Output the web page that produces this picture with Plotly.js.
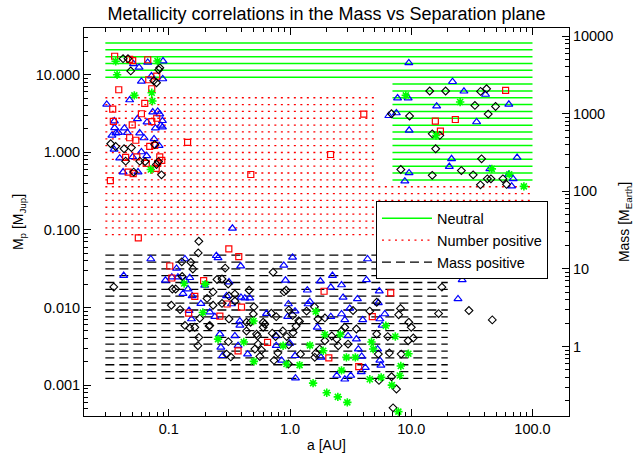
<!DOCTYPE html>
<html><head><meta charset="utf-8">
<script src="https://cdn.plot.ly/plotly-3.0.1.min.js"></script>
<style>html,body{margin:0;padding:0;background:#fff}#chart{width:634px;height:453px}</style>
</head><body><div id="chart"></div>
<script>
// ---- Horizontal correlation bands (mass levels in M_Jup, spans in AU) ----
var neutralLevelsFull = [25.7, 21.0, 17.1, 14.0, 11.4, 9.3];
var neutralSpanFull = [0.03, 100];
var neutralLevelsRight = [7.59, 6.19, 5.05, 4.12, 3.37, 2.75, 2.24, 1.83, 1.49, 1.22, 0.995, 0.812, 0.663, 0.541, 0.441];
var neutralSpanRight = [7, 100];
var numberLevelsLeft = [5.05, 4.12, 3.37, 2.75, 2.24, 1.83, 1.49, 1.22, 0.995, 0.812, 0.663, 0.541, 0.441];
var numberSpanLeft = [0.03, 5];
var numberLevelsFull = [0.360, 0.294, 0.240, 0.196, 0.160, 0.130, 0.106, 0.0869];
var numberSpanFull = [0.03, 100];
var massLevels = [0.0472, 0.0385, 0.0315, 0.0257, 0.0210, 0.0171, 0.0140, 0.0114, 0.00929, 0.00759, 0.00619, 0.00505, 0.00412, 0.00337, 0.00275, 0.00224, 0.00183, 0.00149, 0.00122];
var massSpan = [0.03, 20];

// ---- Planets: semi-major axis a [AU] and mass [M_Jup] ----
var blueA = [0.0308,0.0356,0.0476,0.0512,0.0569,0.0671,0.0897,0.0595,0.0720,0.0892,0.0358,0.0367,0.0340,0.0385,0.0431,0.0456,0.0354,0.0394,0.0420,0.0552,0.0576,0.0626,0.0662,0.0738,0.0811,0.0843,0.0887,0.0859,0.0887,0.0776,0.0756,0.0832,0.0558,0.0595,0.0658,0.0504,
 9.55,21.9,27.2,41.0,7.71,9.43,16.2,63.8,6.53,7.54,34.6,9.61,21.5,20.6,74.6,44.5,9.59,8.85,63.8,69.3,67.3,
 0.0711,0.0425,0.136,0.247,0.0939,0.106,0.119,0.137,0.149,0.198,0.131,0.144,0.156,0.184,0.147,0.154,0.218,0.240,0.264,0.269,0.278,1.05,0.392,0.889,2.24,0.918,0.314,2.66,2.17,1.39,2.74,0.300,0.394,0.424,0.466,0.329,1.46,1.41,0.970,1.10,0.640,3.11,2.66,2.17,2.83,0.386,0.957,4.36,4.27,5.45,3.60,5.35,26.3,24.3,6.05,3.98,5.51,0.386,0.351,0.373,0.447,0.770,0.770,0.996,0.852,1.10,1.11,1.68,1.80,2.43,2.83,3.17,3.01,5.75,3.53,3.66,5.28,3.90,5.51,5.62,4.18,3.87,1.78,0.335,0.255,0.116];
var blueM = [4.14,2.53,4.72,13.8,12.4,14.4,15.0,8.20,9.62,8.81,2.07,1.77,1.65,1.79,2.05,1.79,1.09,0.841,0.556,2.70,1.77,1.53,2.45,3.30,3.36,3.11,2.55,2.22,2.11,2.05,1.49,1.22,0.556,1.01,0.902,0.874,
 14.2,8.12,6.12,5.56,5.00,5.00,3.94,4.16,2.96,3.21,2.46,1.92,0.824,0.656,0.857,0.612,0.543,0.425,0.520,0.455,0.366,
 0.0422,0.0258,0.0422,0.0465,0.0224,0.0246,0.0246,0.0224,0.0242,0.0193,0.0151,0.0173,0.0141,0.0112,0.00914,0.00711,0.00871,0.00762,0.00455,0.00306,0.00239,0.0443,0.0342,0.0349,0.0258,0.0224,0.0213,0.0195,0.0182,0.0167,0.0135,0.0141,0.0135,0.0132,0.0132,0.0111,0.0119,0.0111,0.0111,0.00899,0.00835,0.00973,0.00825,0.00762,0.00693,0.00667,0.00762,0.0422,0.0227,0.0163,0.0129,0.0115,0.0227,0.0129,0.00825,0.00693,0.00711,0.00588,0.00430,0.00322,0.00251,0.00430,0.00322,0.00346,0.00208,0.00239,0.00123,0.00556,0.00228,0.00133,0.00119,0.00133,0.00430,0.00588,0.00392,0.00291,0.00291,0.00234,0.00208,0.00180,0.00168,0.00148,0.0219,0.105,0.0435,0.0319];

var redA = [0.0358,0.0476,0.0504,0.0671,0.0796,0.0684,0.0387,0.0724,0.0634,0.0345,0.0796,0.0724,0.050,0.0349,0.0476,0.0535,0.0441,0.0545,0.0697,0.0766,0.0843,0.0876,0.0811,0.0652,0.0463,0.0509,0.0788,0.033,0.0595,0.143,0.475,4.06,2.16,
 60.0,15.8,23.1,17.4,
 0.0561,0.102,0.106,0.194,0.164,0.146,0.264,0.313,0.378,0.303,0.398,1.91,0.653,0.373,2.09,6.77,4.77,3.69];
var redM = [17.3,15.8,15.2,15.6,9.57,8.61,6.40,6.59,4.27,3.61,2.75,2.48,2.26,2.51,1.54,1.43,0.861,0.874,1.19,1.23,0.874,0.789,0.722,0.722,0.556,0.532,0.622,0.433,3.14,1.34,0.518,3.11,0.937,
 6.27,2.53,2.65,1.88,
 0.0789,0.0343,0.0240,0.0222,0.0139,0.00849,0.00776,0.0569,0.0452,0.0111,0.0101,0.0162,0.00356,0.00277,0.00225,0.0154,0.00765,0.00173];

var blackA = [0.0420,0.0461,0.0486,0.0843,0.0827,0.0792,0.0752,0.0332,0.0365,0.0428,0.0492,0.0441,0.0514,0.0577,0.0638,0.0766,0.0792,0.0822,0.0871,
 14.2,19.2,37.3,41.8,33.5,49.6,43.1,9.68,6.87,14.9,17.2,15.9,38.0,8.20,14.9,25.9,32.4,42.4,45.4,57.0,61.1,37.2,
 0.0352,0.177,0.175,0.152,0.128,0.158,0.129,0.107,0.114,0.105,0.124,0.180,0.177,0.174,0.207,0.215,0.232,0.250,0.275,0.292,0.232,0.275,0.314,0.314,0.310,0.325,0.351,0.460,0.473,0.504,0.498,0.530,0.546,0.564,0.601,0.701,0.714,0.760,0.725,0.738,0.872,0.940,0.977,0.929,0.977,1.05,1.12,1.18,1.22,1.59,1.63,1.70,0.136,0.149,0.164,0.218,0.300,0.438,0.540,0.513,0.582,1.06,0.620,0.794,0.970,1.60,1.76,1.94,2.21,2.43,2.66,2.50,3.01,2.83,3.53,5.19,6.40,10.0,9.42,10.4,6.60,5.35,8.26,6.88,7.55,5.42,7.08,17.9,29.9,46.6,8.15,7.88,16.8,5.19,4.55,9.55,3.31,1.94,1.37,1.20,0.894,0.351,0.309,0.770,0.601,0.438];
var blackM = [16.1,16.1,11.2,12.3,11.6,7.88,8.37,1.29,1.19,1.11,1.15,0.770,0.556,0.770,0.760,1.26,0.697,0.760,0.513,
 6.17,6.17,6.10,6.59,4.02,3.90,3.11,2.93,3.14,1.73,1.65,1.11,0.824,0.600,0.505,0.582,0.513,0.455,0.455,0.455,0.386,0.381,
 0.0184,0.0714,0.0505,0.0383,0.0388,0.0314,0.0251,0.0173,0.0173,0.0107,0.0094,0.00725,0.00412,0.00322,0.0131,0.00576,0.0107,0.0230,0.0233,0.0322,0.0159,0.0113,0.0141,0.00711,0.00363,0.00231,0.0121,0.0167,0.00646,0.0102,0.00825,0.00455,0.00338,0.00234,0.00557,0.00843,0.00467,0.00422,0.0285,0.00208,0.00499,0.00422,0.00330,0.0167,0.00931,0.00791,0.00576,0.00676,0.00251,0.0102,0.00258,0.00711,0.00588,0.00546,0.00556,0.00588,0.00251,0.00499,0.00430,0.00291,0.00283,0.00476,0.00613,0.00260,0.00187,0.00228,0.00291,0.00373,0.00430,0.00392,0.00499,0.00322,0.00338,0.00556,0.00528,0.00455,0.00422,0.00556,0.00373,0.00405,0.00260,0.00251,0.00251,0.00128,0.00089,0.00115,0.00051,0.0183,0.00914,0.00693,0.00973,0.00808,0.00835,0.0117,0.00899,0.00646,0.00914,0.00735,0.00899,0.00662,0.0159,0.0149,0.0201,0.00762,0.00646,0.00646];

var greenA = [0.0365,0.0375,0.052,0.0724,0.0733,0.0807,0.0711,
 9.02,25.3,16.0,46.2,64.3,84.9,
 0.134,0.200,0.191,0.255,0.416,0.503,0.500,0.877,0.935,1.20,1.46,1.63,1.55,1.94,1.88,2.60,2.92,2.66,2.01,2.48,2.97,3.46,4.70,4.85,6.17,7.39,9.47,8.20,8.05,4.55,5.65,6.92,7.83];
var greenM = [14.9,10.0,5.41,5.86,4.58,15.0,0.600,
 5.41,4.45,1.65,0.612,0.520,0.364,
 0.0204,0.0200,0.00861,0.00392,0.00359,0.00202,0.00670,0.00322,0.00187,0.00181,0.00325,0.00887,0.00106,0.00449,0.00277,0.00449,0.00228,0.00155,0.000796,0.000706,0.000600,0.00228,0.00359,0.00292,0.00582,0.00423,0.00254,0.00176,0.00133,0.00119,0.00126,0.00100,0.000455];

var xTickVals = [0.1, 1, 10, 100];
var xTickText = ['0.1', '1.0', '10.0', '100.0'];
var yTickVals = [0.001, 0.01, 0.1, 1, 10];
var yTickText = ['0.001', '0.010', '0.100', '1.000', '10.000'];
var y2TickVals = [1, 10, 100, 1000, 10000];
var y2TickText = ['1', '10', '100', '1000', '10000'];
var xRange = [0.02, 200];
var yRange = [0.0004, 40];
var jupToEarth = 317.83;

function bandSegments(levelSets) {
  var xs = [], ys = [];
  levelSets.forEach(function (set) {
    set.levels.forEach(function (v) {
      xs.push(set.span[0], set.span[1], null);
      ys.push(v, v, null);
    });
  });
  return {x: xs, y: ys};
}
function minorVals(lo, hi) {
  var out = [];
  for (var e = Math.floor(Math.log10(lo)); e <= Math.ceil(Math.log10(hi)); e++) {
    for (var m = 2; m <= 9; m++) {
      var v = m * Math.pow(10, e);
      if (v >= lo && v <= hi) out.push(v);
    }
  }
  return out;
}

var g = bandSegments([{levels: neutralLevelsFull, span: neutralSpanFull}, {levels: neutralLevelsRight, span: neutralSpanRight}]);
var r = bandSegments([{levels: numberLevelsLeft, span: numberSpanLeft}, {levels: numberLevelsFull, span: numberSpanFull}]);
var k = bandSegments([{levels: massLevels, span: massSpan}]);

var traces = [
  {x: g.x, y: g.y, mode: 'lines', name: 'Neutral', line: {color: '#00ff00', width: 1.5}, connectgaps: false, hoverinfo: 'skip'},
  {x: r.x, y: r.y, mode: 'lines', name: 'Number positive', line: {color: '#ff0000', width: 1.3, dash: '2px,4.5px'}, connectgaps: false, hoverinfo: 'skip'},
  {x: k.x, y: k.y, mode: 'lines', name: 'Mass positive', line: {color: '#000000', width: 1.3, dash: '9px,5px'}, connectgaps: false, hoverinfo: 'skip'},
  {x: blueA, y: blueM, mode: 'markers', showlegend: false, marker: {symbol: 'triangle-up-open', size: 7, color: '#0000ff', line: {width: 1.2, color: '#0000ff'}}},
  {x: redA, y: redM, mode: 'markers', showlegend: false, marker: {symbol: 'square-open', size: 6, color: '#ff0000', line: {width: 1.2, color: '#ff0000'}}},
  {x: blackA, y: blackM, mode: 'markers', showlegend: false, marker: {symbol: 'diamond-open', size: 6, color: '#000000', line: {width: 1.1, color: '#000000'}}},
  {x: greenA, y: greenM, mode: 'markers', showlegend: false, marker: {symbol: 'asterisk', size: 7, color: '#00ff00', line: {width: 1.6, color: '#00ff00'}}},
  // empty trace that attaches the Earth-mass axis on the right
  {x: [], y: [], yaxis: 'y2', mode: 'markers', showlegend: false, hoverinfo: 'skip'}
];

var axisCommon = {
  type: 'log', showgrid: false, zeroline: false, showline: true, linecolor: '#000', linewidth: 1,
  ticks: 'inside', ticklen: 7, tickcolor: '#000', tickwidth: 1, tickmode: 'array',
  tickfont: {size: 14.5, color: '#000'}
};

var layout = {
  width: 634, height: 453,
  margin: {l: 84, r: 65, t: 28, b: 37},
  paper_bgcolor: '#fff', plot_bgcolor: '#fff',
  font: {family: 'Liberation Sans, Arial, sans-serif', color: '#000'},
  title: {text: 'Metallicity correlations in the Mass vs Separation plane', font: {size: 18, color: '#000'}, x: 0.5, xref: 'paper', xanchor: 'center', y: 0.969, yref: 'container', yanchor: 'middle'},
  showlegend: true,
  legend: {x: 0.602, y: 0.553, xanchor: 'left', yanchor: 'top', bgcolor: '#fff', bordercolor: '#000', borderwidth: 1, itemwidth: 50, font: {size: 14.5, color: '#000'}},
  xaxis: Object.assign({}, axisCommon, {
    range: [Math.log10(xRange[0]), Math.log10(xRange[1])], tickvals: xTickVals, ticktext: xTickText, mirror: 'ticks',
    minor: {tickmode: 'array', tickvals: minorVals(xRange[0], xRange[1]), ticks: 'inside', ticklen: 4, tickcolor: '#000'},
    title: {text: 'a [AU]', font: {size: 14}, standoff: 4}
  }),
  yaxis: Object.assign({}, axisCommon, {
    range: [Math.log10(yRange[0]), Math.log10(yRange[1])], tickvals: yTickVals, ticktext: yTickText,
    minor: {tickmode: 'array', tickvals: minorVals(yRange[0], yRange[1]), ticks: 'inside', ticklen: 4, tickcolor: '#000'},
    title: {text: 'M<sub>p</sub> [M<sub>Jup</sub>]', font: {size: 14}, standoff: 8}
  }),
  yaxis2: Object.assign({}, axisCommon, {
    overlaying: 'y', side: 'right', anchor: 'x',
    range: [Math.log10(yRange[0] * jupToEarth), Math.log10(yRange[1] * jupToEarth)], tickvals: y2TickVals, ticktext: y2TickText,
    minor: {tickmode: 'array', tickvals: minorVals(yRange[0] * jupToEarth, yRange[1] * jupToEarth), ticks: 'inside', ticklen: 4, tickcolor: '#000'},
    title: {text: 'Mass [M<sub>Earth</sub>]', font: {size: 14}, standoff: 8}
  })
};

Plotly.newPlot('chart', traces, layout, {staticPlot: true, displayModeBar: false});
</script></body></html>
